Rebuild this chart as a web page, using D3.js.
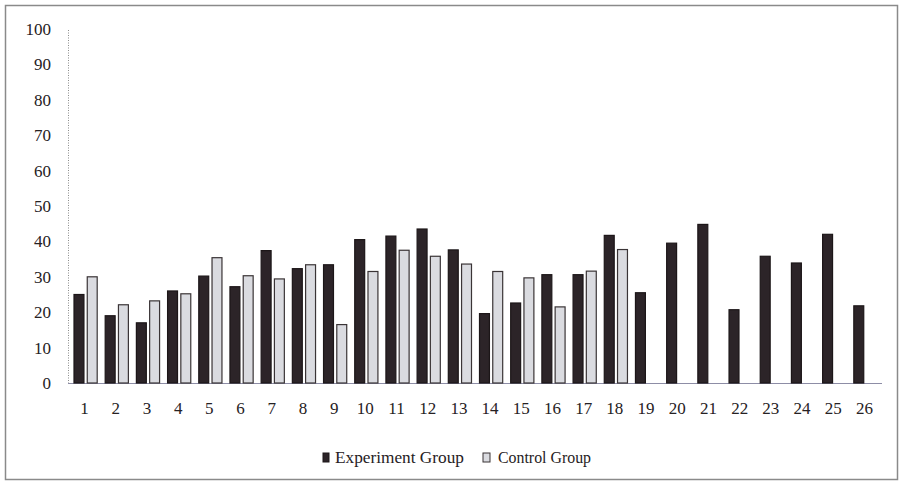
<!DOCTYPE html>
<html>
<head>
<meta charset="utf-8">
<script src="https://cdn.jsdelivr.net/npm/d3@7"></script>
<style>
  html, body { margin: 0; padding: 0; background: #fff; }
  svg { display: block; }
  text { font-family: "Liberation Serif", "Times New Roman", serif; fill: #262123; }
</style>
</head>
<body>
<svg id="chart" width="905" height="483"></svg>
<script>
// Session numbers along the x axis
const categories = d3.range(1, 27).map(String);
// Scores per session (control group ran only through session 18)
const experimentValues = [25, 19, 17, 26, 30.2, 27.2, 37.4, 32.3, 33.4, 40.5, 41.5, 43.5, 37.6, 19.6, 22.6, 30.6, 30.6, 41.7, 25.5, 39.5, 44.8, 20.7, 35.8, 33.9, 42, 21.8];
const controlValues = [30, 22.1, 23.2, 25.2, 35.4, 30.3, 29.4, 33.4, 16.5, 31.5, 37.5, 35.8, 33.6, 31.5, 29.7, 21.5, 31.6, 37.7];
const yTicks = [0, 10, 20, 30, 40, 50, 60, 70, 80, 90, 100];
const seriesNames = ["Experiment Group", "Control Group"];

const svg = d3.select("#chart");
const fontSize = 17;

// Outer frame
svg.append("rect")
  .attr("x", 5.5).attr("y", 5.5).attr("width", 892).attr("height", 474)
  .attr("fill", "#fff").attr("stroke", "#8a8a8a").attr("stroke-width", 1.5);

const x = d3.scaleBand().domain(categories).range([69, 880]).paddingInner(0).paddingOuter(0);
const y = d3.scaleLinear().domain([0, 100]).range([383, 29]);

// Position of the two bars inside each band
const inner = d3.scaleBand().domain(seriesNames).range([5, x.bandwidth() - 3]).paddingInner(0.25);

// Y axis
const yAxis = svg.append("g").attr("transform", "translate(68,0)")
  .call(d3.axisLeft(y).tickValues(yTicks).tickSize(0).tickPadding(17).tickFormat(d3.format("d")));
yAxis.select(".domain").attr("stroke", "#8a8a8a").attr("stroke-dasharray", "1,1.5");
yAxis.selectAll("text").attr("font-size", fontSize).attr("font-family", "Liberation Serif, serif").attr("fill", "#262123");

// X axis
const xAxis = svg.append("g").attr("transform", "translate(0,383)")
  .call(d3.axisBottom(x).tickSize(0).tickPadding(19));
xAxis.select(".domain").attr("stroke", "#8d8da6").attr("stroke-width", 1.2).attr("d", "M68,0.5H882");
xAxis.selectAll("text").attr("font-size", fontSize).attr("font-family", "Liberation Serif, serif").attr("fill", "#262123");

// Bars
const series = [
  { name: seriesNames[0], values: experimentValues, fill: "#2c2428", stroke: "#1c1618" },
  { name: seriesNames[1], values: controlValues, fill: "#dadbe0", stroke: "#3a3436" }
];

series.forEach(s => {
  svg.append("g").selectAll("rect")
    .data(s.values.map((v, i) => ({ cat: categories[i], v })))
    .join("rect")
    .attr("x", d => x(d.cat) + inner(s.name))
    .attr("y", d => y(d.v))
    .attr("width", inner.bandwidth())
    .attr("height", d => y(0) - y(d.v))
    .attr("fill", s.fill)
    .attr("stroke", s.stroke)
    .attr("stroke-width", 1.2);
});

// Legend
const legend = svg.append("g").attr("transform", "translate(322,463)");
legend.append("rect").attr("x", 1).attr("y", -10).attr("width", 6).attr("height", 9)
  .attr("fill", "#2c2428").attr("stroke", "#1c1618");
legend.append("text").attr("x", 13).attr("y", 0).attr("font-size", fontSize)
  .attr("textLength", 129).attr("lengthAdjust", "spacingAndGlyphs").text(seriesNames[0]);
legend.append("rect").attr("x", 161).attr("y", -10).attr("width", 7).attr("height", 9)
  .attr("fill", "#dadbe0").attr("stroke", "#3a3436");
legend.append("text").attr("x", 176).attr("y", 0).attr("font-size", fontSize)
  .attr("textLength", 93).attr("lengthAdjust", "spacingAndGlyphs").text(seriesNames[1]);
</script>
</body>
</html>
